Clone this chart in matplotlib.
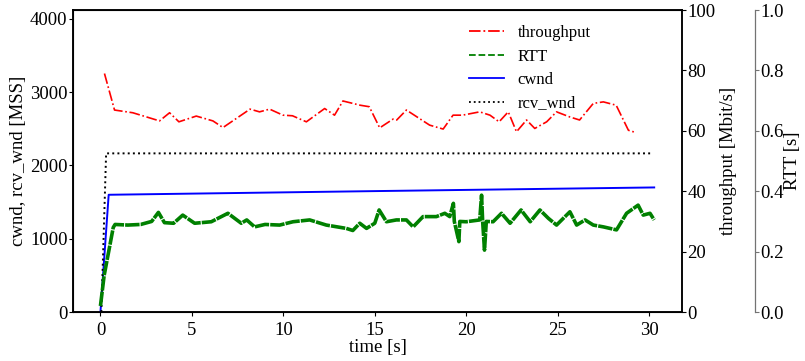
import numpy as np
import matplotlib.pyplot as plt
from matplotlib.lines import Line2D

plt.rcParams['font.family'] = ['Liberation Serif', 'DejaVu Serif']
plt.rcParams['font.size'] = 13.5

# ------- data -------
thr_t = [0.22, 0.77, 1.77, 3.23, 3.78, 4.29, 5.24, 6.15, 6.7, 8.18, 8.7, 9.25,
         9.98, 10.5, 11.26, 12.26, 12.8, 13.26, 14.2, 14.7, 15.27, 16.0, 16.2,
         16.73, 18.0, 18.74, 19.28, 19.8, 20.74, 21.3, 21.8, 22.3, 22.75, 23.3,
         23.75, 24.4, 24.94, 25.67, 26.2, 26.95, 27.5, 28.2, 28.87, 29.3]
thr_v = [79.0, 66.9, 66.0, 63.3, 66.0, 63.0, 64.9, 63.3, 61.1, 67.2, 66.3, 67.2,
         65.2, 65.0, 63.0, 67.4, 65.2, 69.9, 68.5, 68.0, 61.0, 63.9, 63.6,
         66.9, 61.9, 60.6, 65.2, 65.2, 66.3, 65.2, 63.0, 66.3, 59.7, 63.6,
         60.8, 63.0, 66.3, 64.6, 63.6, 69.1, 69.6, 68.5, 60.2, 59.4]

rtt_t = [0.0, 0.2, 0.45, 0.7, 0.8, 1.5, 2.2, 2.8, 3.17, 3.5, 4.0, 4.5, 5.15,
         6.06, 6.97, 7.7, 8.0, 8.43, 9.0, 9.8, 10.53, 11.44, 12.35, 13.44,
         13.8, 14.18, 14.55, 15.0, 15.24, 15.64, 16.18, 16.73, 17.1, 17.64,
         18.37, 18.83, 19.1, 19.3, 19.35, 19.6, 19.65, 20.0, 20.74, 20.84,
         20.9, 21.0, 21.1, 21.47, 21.93, 22.4, 23.0, 23.5, 24.03, 24.5, 24.94,
         25.67, 26.04, 26.5, 26.95, 27.5, 28.22, 28.77, 29.4, 29.68, 30.05, 30.28]
rtt_v = [0.02, 0.12, 0.2, 0.28, 0.29, 0.288, 0.29, 0.30, 0.33, 0.296, 0.294,
         0.321, 0.294, 0.299, 0.327, 0.294, 0.305, 0.282, 0.29, 0.288, 0.299,
         0.305, 0.288, 0.277, 0.27, 0.294, 0.277, 0.294, 0.338, 0.299, 0.305,
         0.305, 0.282, 0.316, 0.316, 0.327, 0.316, 0.36, 0.30, 0.233, 0.30,
         0.299, 0.305, 0.387, 0.30, 0.205, 0.30, 0.299, 0.327, 0.294, 0.338,
         0.299, 0.338, 0.31, 0.288, 0.332, 0.288, 0.305, 0.288, 0.282, 0.272,
         0.327, 0.354, 0.321, 0.327, 0.305]

cwnd_t = [0.0, 0.45, 15.0, 30.28]
cwnd_v = [0, 1600, 1650, 1700]

rwnd_t = [0.05, 0.31, 30.17]
rwnd_v = [0, 2165, 2165]

# ------- figure -------
fig = plt.figure(figsize=(8.05, 3.61), dpi=100)
ax = fig.add_axes([0.0907, 0.1357, 0.7565, 0.8363])
ax_thr = ax.twinx()
ax_rtt = ax.twinx()
ax_rtt.spines['right'].set_position(('axes', 1.12))

ax.plot(cwnd_t, cwnd_v, color='b', lw=1.4, zorder=3)
ax.plot(rwnd_t, rwnd_v, color='k', ls=':', lw=1.4, zorder=3)
ax_thr.plot(thr_t, thr_v, color='r', ls='-.', lw=1.2)
ax_rtt.plot(rtt_t, rtt_v, color='g', lw=2.6, ls=(0, (4, 0.3)))

ax.set_xlim(-1.5, 31.8)
ax.set_ylim(0, 4120)
ax.set_yticks([0, 1000, 2000, 3000, 4000])
ax.set_xticks([0, 5, 10, 15, 20, 25, 30])
ax_thr.set_ylim(0, 100)
ax_thr.set_yticks([0, 20, 40, 60, 80, 100])
ax_rtt.set_ylim(0, 1.0)
ax_rtt.set_yticks([0.0, 0.2, 0.4, 0.6, 0.8, 1.0])
ax_rtt.set_yticklabels(['0.0', '0.2', '0.4', '0.6', '0.8', '1.0'])

for a in (ax, ax_thr):
    for s in a.spines.values():
        s.set_linewidth(1.1)
ax_rtt.spines['right'].set_color('0.45')
ax_rtt.spines['right'].set_linewidth(0.9)
ax_rtt.tick_params(axis='y', color='0.45')
for a in (ax, ax_thr, ax_rtt):
    a.tick_params(labelsize=13.5, length=3, pad=1)
ax.tick_params(axis='x', pad=4)

ax.set_xlabel('time [s]', fontsize=13.5, labelpad=0)
ax.set_ylabel('cwnd, rcv_wnd [MSS]', fontsize=13.5, labelpad=2)
ax_thr.set_ylabel('throughput [Mbit/s]', fontsize=13.5, labelpad=3)
ax_rtt.set_ylabel('RTT [s]', fontsize=13.5, labelpad=0)

handles = [Line2D([], [], color='r', ls='-.', lw=1.3),
           Line2D([], [], color='g', ls='--', lw=1.3),
           Line2D([], [], color='b', lw=1.3),
           Line2D([], [], color='k', ls=':', lw=1.3)]
ax_rtt.legend(handles, ['throughput', 'RTT', 'cwnd', 'rcv_wnd'],
              loc='upper left', bbox_to_anchor=(0.625, 1.0), frameon=False,
              fontsize=12, handlelength=2.1, handletextpad=0.85,
              labelspacing=0.45)

fig.savefig('out.png', dpi=100)
